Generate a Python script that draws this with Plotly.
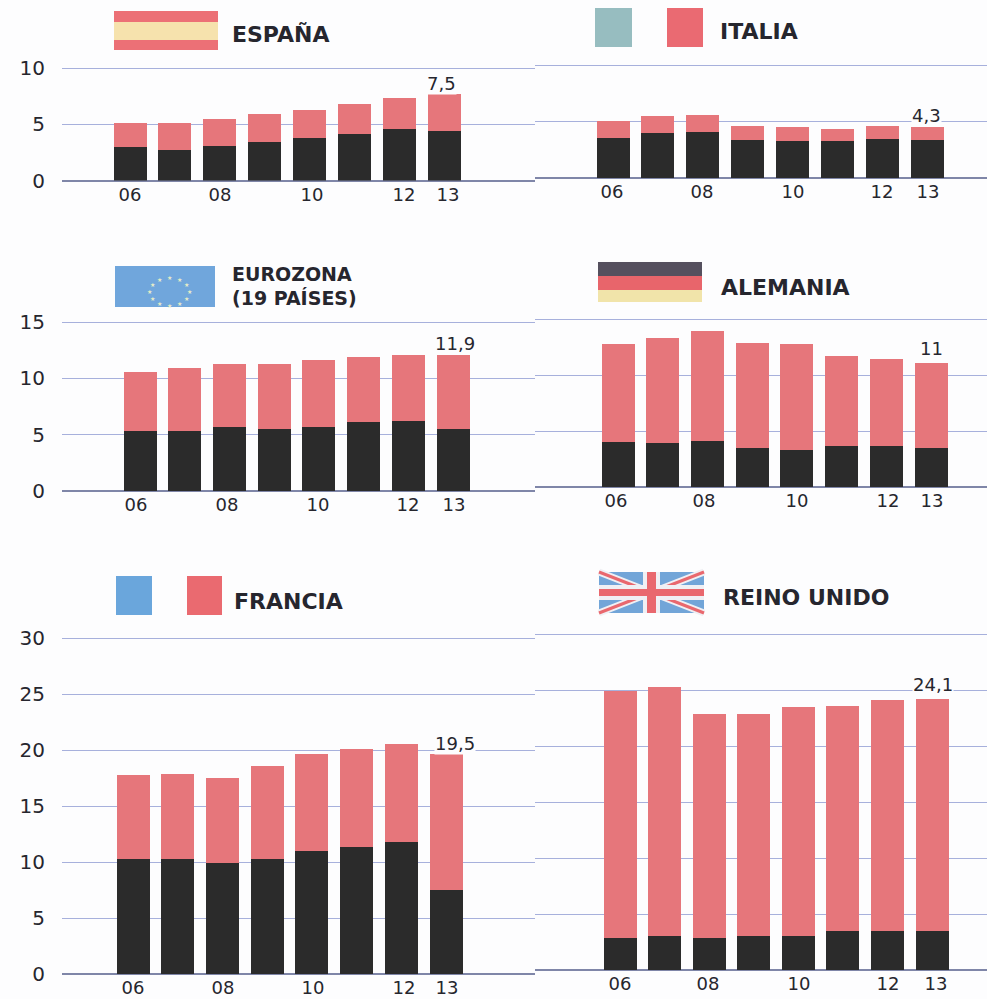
import math
import plotly.graph_objects as go

W, H = 987, 999

years = [2006, 2007, 2008, 2009, 2010, 2011, 2012, 2013]
tick_labels = ["06", "08", "10", "12", "13"]

# values: black lower segment and red upper segment
espana_black = [3.0, 2.7, 3.1, 3.4, 3.8, 4.1, 4.6, 4.4]
espana_red = [2.1, 2.4, 2.4, 2.5, 2.5, 2.7, 2.7, 3.25]
italia_black = [3.55, 4.0, 4.05, 3.4, 3.3, 3.3, 3.45, 3.4]
italia_red = [1.5, 1.5, 1.55, 1.2, 1.2, 1.05, 1.15, 1.1]
eurozona_black = [5.3, 5.35, 5.7, 5.5, 5.7, 6.1, 6.25, 5.5]
eurozona_red = [5.25, 5.55, 5.6, 5.75, 5.95, 5.75, 5.8, 6.55]
alemania_black = [4.05, 3.9, 4.1, 3.45, 3.3, 3.7, 3.65, 3.5]
alemania_red = [8.75, 9.4, 9.8, 9.4, 9.45, 8.0, 7.8, 7.6]
francia_black = [10.3, 10.3, 9.9, 10.3, 11.0, 11.3, 11.8, 7.5]
francia_red = [7.5, 7.6, 7.6, 8.3, 8.6, 8.8, 8.7, 12.1]
reino_black = [2.9, 3.05, 2.9, 3.05, 3.05, 3.5, 3.5, 3.5]
reino_red = [22.0, 22.25, 20.0, 19.85, 20.45, 20.1, 20.6, 20.7]

value_labels = ["7,5", "4,3", "11,9", "11", "19,5", "24,1"]

BLACK = "#2b2b2b"
RED = "#e6767b"
GRID = "#a7b0dc"
BASE = "#7f86a8"
BG = "#fdfdfe"
INK = "#26262e"
FONT = "DejaVu Sans"

def px(x): return x / W
def py(y): return 1 - y / H

# layout of each panel, in page pixels
panels = [
    dict(black=espana_black, red=espana_red, x0=62, x1=535, first=130, last=444, y0=180.5, ytop=68, ymax=10,
         yticks=[0, 5, 10], label=0, lab_dy=11, lab_dx=-3, tickx=[130, 220, 312, 404, 448], left=True),
    dict(black=italia_black, red=italia_red, x0=535, x1=987, first=613, last=927, y0=178, ytop=65, ymax=10,
         yticks=[0, 5, 10], label=1, lab_dy=12, lab_dx=-1, tickx=[612, 702, 793, 882, 928], left=False),
    dict(black=eurozona_black, red=eurozona_red, x0=62, x1=535, first=140, last=453, y0=491, ytop=322, ymax=15,
         yticks=[0, 5, 10, 15], label=2, lab_dy=12, lab_dx=2, tickx=[136, 227, 318, 408, 454], left=True),
    dict(black=alemania_black, red=alemania_red, x0=535, x1=987, first=618, last=931, y0=487, ytop=319, ymax=15,
         yticks=[0, 5, 10, 15], label=3, lab_dy=14, lab_dx=0, tickx=[616, 704, 797, 888, 932], left=False),
    dict(black=francia_black, red=francia_red, x0=62, x1=535, first=133, last=446, y0=974, ytop=638, ymax=30,
         yticks=[0, 5, 10, 15, 20, 25, 30], label=4, lab_dy=11, lab_dx=9, tickx=[133, 223, 313, 404, 447], left=True),
    dict(black=reino_black, red=reino_red, x0=535, x1=987, first=620, last=932, y0=970, ytop=634, ymax=30,
         yticks=[0, 5, 10, 15, 20, 25, 30], label=5, lab_dy=14, lab_dx=1, tickx=[620, 708, 799, 888, 936], left=False),
]

fig = go.Figure()
layout = dict(
    width=W, height=H, autosize=False, margin=dict(l=0, r=0, t=0, b=0),
    paper_bgcolor=BG, plot_bgcolor="rgba(0,0,0,0)", barmode="stack", showlegend=False,
    font=dict(family=FONT, color=INK),
)
annotations, shapes = [], []

for i, p in enumerate(panels, start=1):
    step = (p["last"] - p["first"]) / (years[-1] - years[0])
    to_year = lambda v: years[0] + (v - p["first"]) / step
    xn, yn = f"x{i}", f"y{i}"
    for vals, col in ((p["black"], BLACK), (p["red"], RED)):
        fig.add_trace(go.Bar(x=years, y=vals, marker=dict(color=col, line=dict(width=0)),
                             width=33 / step, xaxis=xn, yaxis=yn))
    layout[f"xaxis{i}"] = dict(
        domain=[px(p["x0"]), px(p["x1"])], range=[to_year(p["x0"]), to_year(p["x1"])],
        anchor=yn, showgrid=False, zeroline=False, showline=False, ticks="", automargin=False,
        tickmode="array", tickvals=[to_year(v) for v in p["tickx"]], ticktext=tick_labels,
        tickfont=dict(family=FONT, size=18, color=INK), ticklabelstandoff=1, fixedrange=True,
    )
    # the range reaches a little past the top tick, because a gridline on the range edge is not drawn
    per_unit = (p["y0"] - p["ytop"]) / p["ymax"]
    layout[f"yaxis{i}"] = dict(
        domain=[py(p["y0"]), py(p["ytop"] - 3)], range=[0, p["ymax"] + 3 / per_unit], anchor=xn, automargin=False,
        tickmode="array", tickvals=p["yticks"], showgrid=True, gridcolor=GRID, gridwidth=1,
        zeroline=True, zerolinecolor=BASE, zerolinewidth=1.5, ticks="", showline=False,
        showticklabels=p["left"], tickfont=dict(family=FONT, size=20, color=INK),
        ticklabelstandoff=16, fixedrange=True,
    )
    total = p["black"][-1] + p["red"][-1]
    annotations.append(dict(
        x=years[-1], y=total, xref=xn, yref=yn, text=value_labels[p["label"]], showarrow=False,
        xshift=p["lab_dx"], yshift=p["lab_dy"], bgcolor=BG,
        font=dict(family=FONT, size=18, color=INK), borderpad=0,
    ))

def title(text, x, y, size=22):
    annotations.append(dict(x=px(x - 2), y=py(y), xref="paper", yref="paper", text=text, showarrow=False,
                            xanchor="left", yanchor="middle",
                            font=dict(family=FONT, size=size, color=INK, weight="bold")))

title("ESPAÑA", 232, 35)
title("ITALIA", 720, 32)
title("EUROZONA", 232, 274, 19)
title("(19 PAÍSES)", 232, 298, 19)
title("ALEMANIA", 721, 287)
title("FRANCIA", 234, 601)
title("REINO UNIDO", 723, 597)

def rect(x0, y0, x1, y1, col):
    shapes.append(dict(type="rect", xref="paper", yref="paper", x0=px(x0), x1=px(x1),
                       y0=py(y0), y1=py(y1), fillcolor=col, line=dict(width=0), layer="above"))

def line(x0, y0, x1, y1, col, w):
    shapes.append(dict(type="line", xref="paper", yref="paper", x0=px(x0), x1=px(x1),
                       y0=py(y0), y1=py(y1), line=dict(color=col, width=w), layer="above"))

# Spain
rect(114, 11, 218, 22, "#ec7076"); rect(114, 22, 218, 40, "#f6e2ad"); rect(114, 40, 218, 50, "#ec7076")
# Italy
rect(595, 8, 632, 47, "#97bdc0"); rect(667, 8, 703, 47, "#ea6a72")
# EU
rect(115, 266, 215, 307, "#70a6dc")
for k in range(12):
    a = 2 * math.pi * k / 12
    annotations.append(dict(x=px(165 + 20 * math.sin(a)), y=py(286 + 14 * math.cos(a)), xref="paper", yref="paper",
                            text="★", showarrow=False, font=dict(size=6, color="#e6ecc8", family=FONT)))
# Germany
rect(598, 262, 702, 276, "#55505e"); rect(598, 276, 702, 290, "#e8656b"); rect(598, 290, 702, 302, "#f1e4aa")
# France
rect(116, 576, 152, 615, "#6aa6dc"); rect(187, 576, 222, 615, "#ea6a70")
# UK
rect(599, 572, 704, 613, "#72a5d8")
line(599, 572, 704, 613, "#f0f0f4", 7); line(599, 613, 704, 572, "#f0f0f4", 7)
line(599, 572, 704, 613, "#e9686e", 3); line(599, 613, 704, 572, "#e9686e", 3)
rect(643, 572, 660, 613, "#f0f0f4"); rect(599, 585, 704, 600, "#f0f0f4")
rect(647, 572, 656, 613, "#e9686e"); rect(599, 589, 704, 596, "#e9686e")

layout["annotations"] = annotations
layout["shapes"] = shapes
fig.update_layout(**layout)
fig.write_html("out.html", config={"displayModeBar": False},
               post_script="document.body.style.margin='0';document.body.style.background='#fdfdfe';")
